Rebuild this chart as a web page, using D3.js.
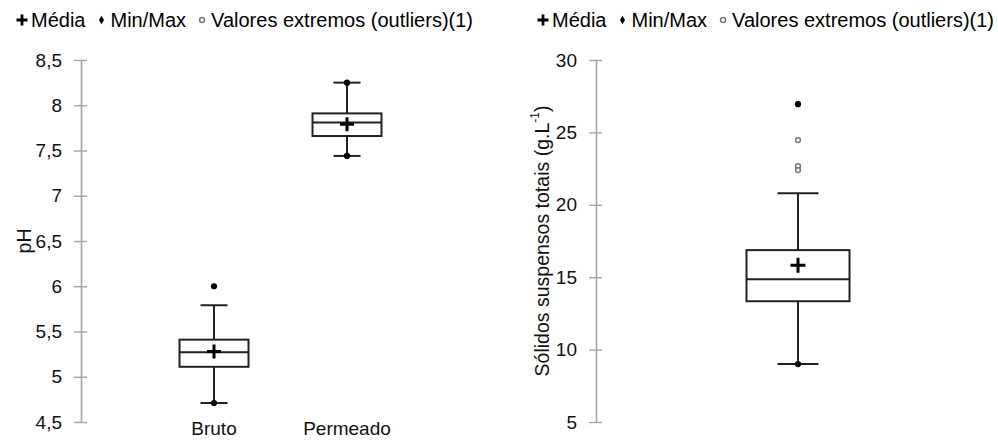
<!DOCTYPE html>
<html>
<head>
<meta charset="utf-8">
<script src="https://cdn.jsdelivr.net/npm/d3@7"></script>
<style>
  body { margin: 0; background: #fff; }
  svg { display: block; font-family: 'Liberation Sans', Arial, sans-serif; }
</style>
</head>
<body>
<div id="container"></div>
<script>
const w = 998
const h = 441
const plotTop = 60
const plotBottom = 422

// legend
const legendLabels = ['Média', 'Min/Max', 'Valores extremos (outliers)(1)']

// left chart: pH
const phGroups = ['Bruto', 'Permeado']
const phTicks = [4.5, 5, 5.5, 6, 6.5, 7, 7.5, 8, 8.5]
const phWhiskerLow = [4.71, 7.44]
const phQ1 = [5.11, 7.66]
const phMedian = [5.27, 7.81]
const phQ3 = [5.41, 7.91]
const phWhiskerHigh = [5.79, 8.25]
const phMean = [5.28, 7.79]
const phMin = [4.71, 7.44]
const phMax = [6.0, 8.25]
const phOutliers = [[], []]

// right chart: total suspended solids
const sstGroups = ['SST']
const sstTicks = [5, 10, 15, 20, 25, 30]
const sstWhiskerLow = [9.0]
const sstQ1 = [13.34]
const sstMedian = [14.86]
const sstQ3 = [16.87]
const sstWhiskerHigh = [20.8]
const sstMean = [15.83]
const sstMin = [9.0]
const sstMax = [26.95]
const sstOutliers = [[24.47, 22.67, 22.4]]

const svg = d3.select('#container')
  .append('svg')
  .attr('width', w)
  .attr('height', h)

function drawLegend(x0) {
  const g = svg.append('g').attr('transform', 'translate(' + x0 + ',27)')
  let x = 0
  legendLabels.forEach((label, i) => {
    const sym = g.append('g').attr('transform', 'translate(' + x + ',-7)')
    if (i === 0) {
      sym.append('path').attr('d', 'M-5.5,0H5.5M0,-5.5V5.5').attr('stroke', '#000').attr('stroke-width', 2.8)
    } else if (i === 1) {
      sym.append('path').attr('d', d3.symbol(d3.symbolDiamond, 22)()).attr('fill', '#000')
    } else {
      sym.append('circle').attr('r', 2.5).attr('fill', '#fff').attr('stroke', '#777').attr('stroke-width', 1.5)
    }
    const t = g.append('text')
      .attr('x', x + 9)
      .style('font-size', '20px')
      .attr('fill', '#000')
      .text(label)
    x += 9 + t.node().getComputedTextLength() + 16
  })
}

function drawChart(opts) {
  const y = d3.scaleLinear().domain(opts.domain).range([plotBottom, plotTop])
  const x = d3.scalePoint().domain(opts.groups).range([opts.x0, opts.x1]).padding(1)

  const axis = svg.append('g')
    .attr('transform', 'translate(' + opts.x0 + ',0)')
    .call(d3.axisLeft(y).tickValues(opts.ticks).tickSizeOuter(0).tickSizeInner(7).tickPadding(12)
      .tickFormat(d => d3.format('')(d).replace('.', ',')))
  axis.select('.domain').attr('stroke', '#a6a6a6').attr('stroke-width', 1.6)
  axis.selectAll('.tick line').attr('stroke', '#a6a6a6').attr('stroke-width', 1.4).attr('x1', 6)
  axis.selectAll('.tick text')
    .style('font-size', '19px')
    .style('font-family', "'Liberation Sans', Arial, sans-serif")
    .attr('fill', '#111')

  const title = svg.append('text')
    .attr('transform', 'translate(' + opts.titleX + ',' + ((plotTop + plotBottom) / 2) + ') rotate(-90)')
    .attr('text-anchor', 'middle')
    .attr('dominant-baseline', 'central')
    .style('font-size', '19.5px')
    .attr('fill', '#111')
    .text(opts.title)
  if (opts.titleSup) {
    title.append('tspan').attr('baseline-shift', 'super').style('font-size', '12px').text(opts.titleSup)
    title.append('tspan').text(')')
  }

  if (opts.showLabels) {
    svg.append('g').selectAll('text')
      .data(opts.groups)
      .join('text')
      .attr('x', d => x(d))
      .attr('y', 435)
      .attr('text-anchor', 'middle')
      .style('font-size', '19px')
      .attr('fill', '#111')
      .text(d => d)
  }

  const bw = opts.boxWidth
  const cw = opts.capWidth
  const stroke = '#222'
  const box = svg.append('g').selectAll('g')
    .data(opts.groups.map((name, i) => ({ name, i })))
    .join('g')
    .attr('transform', d => 'translate(' + x(d.name) + ',0)')

  box.append('line')
    .attr('y1', d => y(opts.whiskerHigh[d.i])).attr('y2', d => y(opts.q3[d.i]))
    .attr('stroke', stroke).attr('stroke-width', 2)
  box.append('line')
    .attr('y1', d => y(opts.q1[d.i])).attr('y2', d => y(opts.whiskerLow[d.i]))
    .attr('stroke', stroke).attr('stroke-width', 2)
  box.append('line')
    .attr('x1', -cw / 2).attr('x2', cw / 2)
    .attr('y1', d => y(opts.whiskerHigh[d.i])).attr('y2', d => y(opts.whiskerHigh[d.i]))
    .attr('stroke', stroke).attr('stroke-width', 2)
  box.append('line')
    .attr('x1', -cw / 2).attr('x2', cw / 2)
    .attr('y1', d => y(opts.whiskerLow[d.i])).attr('y2', d => y(opts.whiskerLow[d.i]))
    .attr('stroke', stroke).attr('stroke-width', 2)
  box.append('rect')
    .attr('x', -bw / 2).attr('width', bw)
    .attr('y', d => y(opts.q3[d.i]))
    .attr('height', d => y(opts.q1[d.i]) - y(opts.q3[d.i]))
    .attr('fill', '#fff').attr('stroke', stroke).attr('stroke-width', 2)
  box.append('line')
    .attr('x1', -bw / 2).attr('x2', bw / 2)
    .attr('y1', d => y(opts.median[d.i])).attr('y2', d => y(opts.median[d.i]))
    .attr('stroke', stroke).attr('stroke-width', 2)

  const m = opts.meanSize / 2
  box.append('path')
    .attr('d', d => 'M' + (-m) + ',' + y(opts.mean[d.i]) + 'H' + m +
      'M0,' + (y(opts.mean[d.i]) - m) + 'V' + (y(opts.mean[d.i]) + m))
    .attr('stroke', '#000').attr('stroke-width', 3)

  box.selectAll('.minmax')
    .data(d => [opts.min[d.i], opts.max[d.i]])
    .join('path')
    .attr('class', 'minmax')
    .attr('transform', v => 'translate(0,' + y(v) + ')')
    .attr('d', d3.symbol(d3.symbolCircle, 30)())
    .attr('fill', '#000')

  box.selectAll('.outlier')
    .data(d => opts.outliers[d.i])
    .join('circle')
    .attr('class', 'outlier')
    .attr('cy', v => y(v))
    .attr('r', 2.4)
    .attr('fill', '#fff')
    .attr('stroke', '#777')
    .attr('stroke-width', 1.5)
}

drawLegend(22)
drawLegend(543)

drawChart({
  groups: phGroups, domain: [4.5, 8.5], ticks: phTicks,
  x0: 81, x1: 480, boxWidth: 69, capWidth: 27, meanSize: 14,
  whiskerLow: phWhiskerLow, q1: phQ1, median: phMedian, q3: phQ3, whiskerHigh: phWhiskerHigh,
  mean: phMean, min: phMin, max: phMax, outliers: phOutliers,
  title: 'pH', titleX: 24, showLabels: true
})

drawChart({
  groups: sstGroups, domain: [5, 30], ticks: sstTicks,
  x0: 596, x1: 1000, boxWidth: 103, capWidth: 41, meanSize: 15,
  whiskerLow: sstWhiskerLow, q1: sstQ1, median: sstMedian, q3: sstQ3, whiskerHigh: sstWhiskerHigh,
  mean: sstMean, min: sstMin, max: sstMax, outliers: sstOutliers,
  title: 'Sólidos suspensos totais (g.L', titleSup: '-1', titleX: 542, showLabels: false
})
</script>
</body>
</html>
